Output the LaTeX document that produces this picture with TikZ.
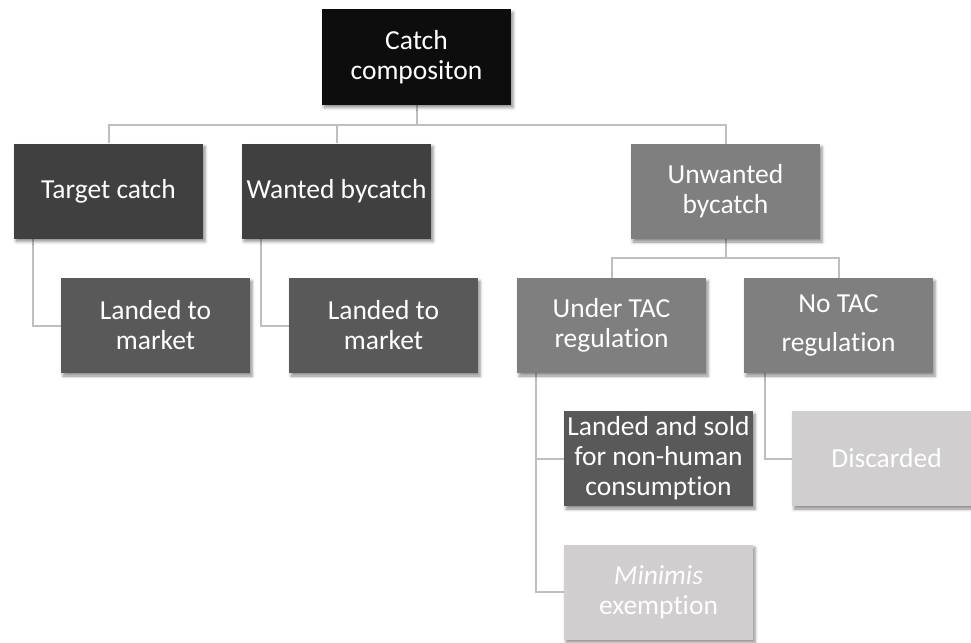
\documentclass[tikz,border=0pt]{standalone}
\usepackage{fontspec}
\setmainfont{Carlito}[Ligatures=NoCommon]
\usetikzlibrary{calc,backgrounds,shadows.blur}

\definecolor{boxblack}{HTML}{0D0D0D}
\definecolor{boxdark}{HTML}{404040}
\definecolor{boxmid}{HTML}{595959}
\definecolor{boxgray}{HTML}{7F7F7F}
\definecolor{boxlight}{HTML}{D0CECE}
\definecolor{linkgray}{HTML}{BFBFBF}

\tikzset{
	box/.style={rectangle, minimum width=189pt, minimum height=95pt, inner sep=1pt,
		text=white, align=center, font=\fontsize{27.5}{30}\selectfont,
		blur shadow={shadow xshift=2pt, shadow yshift=-3pt, shadow blur radius=3pt, shadow opacity=45}},
	link/.style={draw=linkgray, line width=2pt},
}

\begin{document}
\begin{tikzpicture}[x=1pt, y=-1pt]
			%%%%% START %%%%%
			
			\useasboundingbox (0, 0) rectangle (971, 642);
			\clip (0, 0) rectangle (971, 642);
			
			\node[box, fill=boxblack] (catch) at (416.5, 57) {Catch\\compositon};
			
			\node[box, fill=boxdark] (target) at (108.5, 191) {Target catch};
			\node[box, fill=boxdark] (wanted) at (336.5, 191) {Wanted bycatch};
			\node[box, fill=boxgray] (unwanted) at (725.5, 191.5) {Unwanted\\bycatch};
			
			\node[box, fill=boxmid] (market1) at (155.5, 325.5) {Landed to\\market};
			\node[box, fill=boxmid] (market2) at (383.5, 325.5) {Landed to\\market};
			\node[box, fill=boxgray] (undertac) at (611.5, 325.5) {Under TAC\\regulation};
			\node[box, fill=boxgray] (notac) at (838.5, 325.5) {No TAC\\[9pt]regulation};
			
			\node[box, fill=boxmid] (sold) at (658.5, 458.5) {Landed and sold\\for non-human\\consumption};
			\node[box, fill=boxlight] (discard) at (886.5, 458.5) {Discarded};
			\node[box, fill=boxlight] (minimis) at (658.5, 592) {\textit{Minimis}\\exemption};
			
			\begin{pgfonlayer}{background}
			\draw[link] (catch.south) -- ++(0, 20) coordinate (top);
			\draw[link] (target.north) |- (top) -| (unwanted.north);
			\draw[link] (wanted.north) -- (wanted.north |- top);
			
			\draw[link] ($(target.south west)+(19, 0)$) |- (market1.west);
			\draw[link] ($(wanted.south west)+(19, 0)$) |- (market2.west);
			
			\draw[link] (unwanted.south) -- ++(0, 19) coordinate (mid);
			\draw[link] (undertac.north) |- (mid) -| (notac.north);
			
			\draw[link] ($(undertac.south west)+(19, 0)$) |- (sold.west);
			\draw[link] ($(undertac.south west)+(19, 0)$) |- (minimis.west);
			\draw[link] ($(notac.south west)+(21, 0)$) |- (discard.west);
			\end{pgfonlayer}
			
			%%%%% END %%%%%
\end{tikzpicture}
\end{document}
